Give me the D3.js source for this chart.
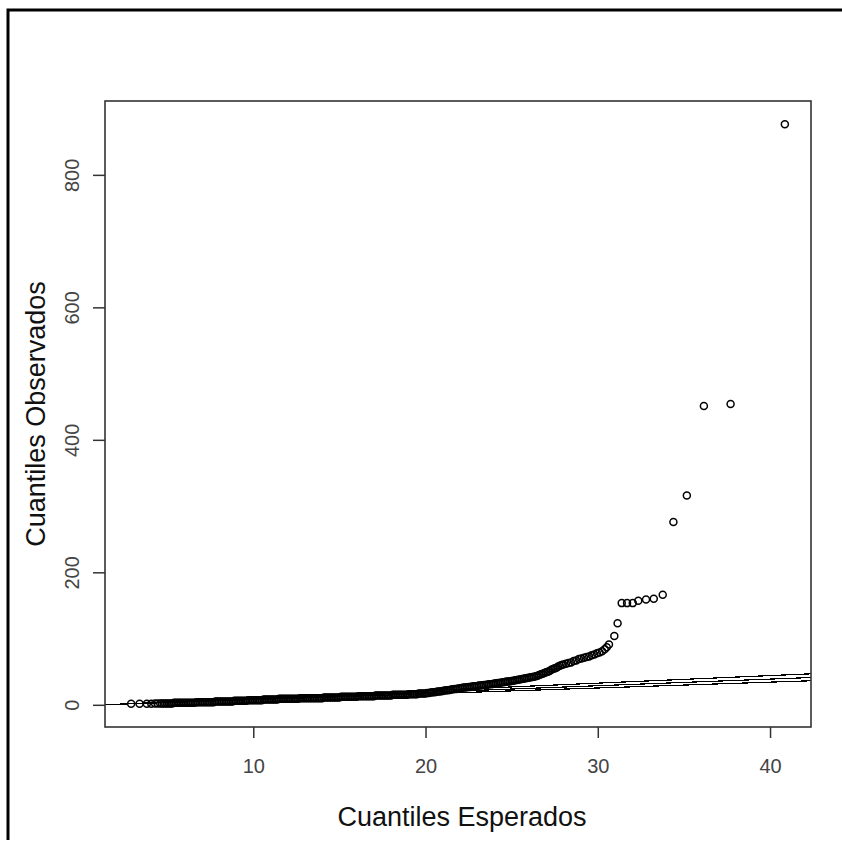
<!DOCTYPE html>
<html>
<head>
<meta charset="utf-8">
<script src="https://cdn.jsdelivr.net/npm/d3@7/dist/d3.min.js"></script>
<style>
  html, body { margin: 0; padding: 0; background: #fff; }
  svg { display: block; font-family: "Liberation Sans", Arial, sans-serif; }
</style>
</head>
<body>
<svg id="chart" width="842" height="852"></svg>
<script>
const expected = [
  2.91,3.40,3.82,4.08,4.30,4.45,
  4.6,4.7,4.8,4.9,5.0,5.1,5.2,5.3,5.4,5.5,
  5.6,5.7,5.8,5.9,6.0,6.1,6.2,6.3,6.4,6.5,
  6.6,6.7,6.8,6.9,7.0,7.1,7.2,7.3,7.4,7.5,
  7.6,7.7,7.8,7.9,8.0,8.1,8.2,8.3,8.4,8.5,
  8.6,8.7,8.8,8.9,9.0,9.1,9.2,9.3,9.4,9.5,
  9.6,9.7,9.8,9.9,10.0,10.1,10.2,10.3,10.4,10.5,
  10.6,10.7,10.8,10.9,11.0,11.1,11.2,11.3,11.4,11.5,
  11.6,11.7,11.8,11.9,12.0,12.1,12.2,12.3,12.4,12.5,
  12.6,12.7,12.8,12.9,13.0,13.1,13.2,13.3,13.4,13.5,
  13.6,13.7,13.8,13.9,14.0,14.1,14.2,14.3,14.4,14.5,
  14.6,14.7,14.8,14.9,15.0,15.1,15.2,15.3,15.4,15.5,
  15.6,15.7,15.8,15.9,16.0,16.1,16.2,16.3,16.4,16.5,
  16.6,16.7,16.8,16.9,17.0,17.1,17.2,17.3,17.4,17.5,
  17.6,17.7,17.8,17.9,18.0,18.1,18.2,18.3,18.4,18.5,
  18.6,18.7,18.8,18.9,19.0,19.1,19.2,19.3,19.4,19.5,
  19.6,19.7,19.8,19.9,20.0,20.1,20.2,20.3,20.4,20.5,
  20.6,20.7,20.8,20.9,21.0,21.1,21.2,21.3,21.4,21.5,
  21.6,21.7,21.8,21.9,22.0,22.1,22.2,22.3,22.4,22.5,
  22.6,22.7,22.8,22.9,23.0,23.1,23.2,23.3,23.4,23.5,
  23.6,23.7,23.8,23.9,24.0,24.1,24.2,24.3,24.4,24.5,
  24.6,24.7,24.8,24.9,25.0,25.1,25.2,25.3,25.4,25.5,
  25.6,25.7,25.8,25.9,26.0,26.1,26.2,26.3,26.4,26.5,
  26.6,26.7,26.8,26.9,27.0,27.1,27.2,27.3,27.4,27.5,
  27.6,27.7,27.8,27.9,
  28.0,28.15,28.3,28.45,28.6,28.75,28.9,29.05,29.2,29.35,
  29.5,29.65,29.8,29.95,30.1,30.25,30.4,30.52,30.65,
  30.96,31.15,31.39,31.7,32.03,32.35,32.8,33.25,33.77,
  34.39,35.17,36.16,37.71,40.86
];
const observed = [
  1.5,1.5,1.5,1.5,2,2,
  2,2,2,2,2,2,2,2,3,3,
  3,3,3,3,3,3,3,3,3,3,
  3,4,4,4,4,4,4,4,4,4,
  4,4,5,5,5,5,5,5,5,5,
  5,5,5,6,6,6,6,6,6,6,
  6,7,7,7,7,7,7,7,7,7,
  8,8,8,8,8,8,8,8,8,9,
  9,9,9,9,9,9,9,9,9,9,
  9,10,10,10,10,10,10,10,10,10,
  10,10,10,10,10,11,11,11,11,11,
  11,11,11,11,11,12,12,12,12,12,
  12,12,12,12,12,13,13,13,13,13,
  13,13,13,13,13,14,14,14,14,14,
  14,14,14,14,14,15,15,15,15,15,
  15,15,15,15,16,16,16,16,16,16,
  17,17,17,17,17,18,18,18.5,19,19,
  19.5,20,20,20.5,21,21.5,22,22,22.5,23,
  23.5,24,24,24.5,25,25.5,26,26,26.5,27,
  27,27.5,28,28,28.5,29,29,29.5,30,30,
  30.5,31,31,31.5,32,32.5,33,33,33.5,34,
  34.5,35,35,35.5,36,36.5,37,37.5,38,38.5,
  39,39.5,40,40.5,41,41.5,42,42.5,43,44,
  45,46,47,48,49,50,51,53,54,55,
  56,58,59,60,
  61,62,63,64,66,67,69,70,71,72,
  73,75,76,78,79,81,84,87,91,
  104,123,153.5,153.5,153.5,157,159,160,166,
  276,316,451,454,876.5
];

// three reference lines: intercept and slope
const refIntercepts = [-1.5, -1.2, -1.0];
const refSlopes = [1.14, 1.0, 0.88];

const xTicks = [10, 20, 30, 40];
const yTicks = [0, 200, 400, 600, 800];
const xTitle = 'Cuantiles Esperados';
const yTitle = 'Cuantiles Observados';

const svg = d3.select('#chart');
const box = {left: 105, right: 811, top: 101, bottom: 727};

// R style 4% padding around data range
const xExt = d3.extent(expected), yExt = d3.extent(observed);
const xPad = (xExt[1]-xExt[0])*0.04, yPad = (yExt[1]-yExt[0])*0.04;
const x = d3.scaleLinear().domain([xExt[0]-xPad, xExt[1]+xPad]).range([box.left, box.right]);
const y = d3.scaleLinear().domain([yExt[0]-yPad, yExt[1]+yPad]).range([box.bottom, box.top]);

svg.append('rect').attr('width', 842).attr('height', 852).attr('fill', '#fff');

// outer frame (cropped on right / bottom)
svg.append('path').attr('d', 'M8,840 V10 H842')
  .attr('fill', 'none').attr('stroke', '#000').attr('stroke-width', 3);

svg.append('defs').append('clipPath').attr('id', 'plotClip')
  .append('rect').attr('x', box.left).attr('y', box.top)
  .attr('width', box.right-box.left).attr('height', box.bottom-box.top);

const plot = svg.append('g').attr('clip-path', 'url(#plotClip)');

// reference lines
const xd = x.domain();
plot.append('g').selectAll('line').data(refSlopes).enter().append('line')
  .attr('x1', x(xd[0])).attr('x2', x(xd[1]))
  .attr('y1', (b,i) => y(refIntercepts[i] + b*xd[0]))
  .attr('y2', (b,i) => y(refIntercepts[i] + b*xd[1]))
  .attr('stroke', '#000').attr('stroke-width', 1.2)
  .attr('shape-rendering', 'crispEdges');

// points
const pts = expected.map((e,i) => ({e, o: observed[i]}));
plot.append('g').selectAll('circle').data(pts).enter().append('circle')
  .attr('cx', d => x(d.e)).attr('cy', d => y(d.o))
  .attr('r', 3.5).attr('fill', 'none')
  .attr('stroke', '#000').attr('stroke-width', 1.5);

// plot box
svg.append('rect').attr('x', box.left).attr('y', box.top)
  .attr('width', box.right-box.left).attr('height', box.bottom-box.top)
  .attr('fill', 'none').attr('stroke', '#333').attr('stroke-width', 1.6);

// x axis
const xa = svg.append('g').attr('transform', 'translate(0,' + box.bottom + ')')
  .call(d3.axisBottom(x).tickValues(xTicks).tickSize(11).tickSizeOuter(0));
xa.select('.domain').remove();
xa.selectAll('line').attr('stroke', '#333').attr('stroke-width', 1.5);
xa.selectAll('text').attr('font-size', 20).attr('fill', '#444')
  .attr('font-family', '"Liberation Sans", Arial, sans-serif').attr('dy', null)
  .attr('y', 46);

// y axis
const ya = svg.append('g').attr('transform', 'translate(' + box.left + ',0)')
  .call(d3.axisLeft(y).tickValues(yTicks).tickSize(12).tickSizeOuter(0));
ya.select('.domain').remove();
ya.selectAll('line').attr('stroke', '#333').attr('stroke-width', 1.5);
ya.selectAll('text').attr('font-size', 20).attr('fill', '#444')
  .attr('font-family', '"Liberation Sans", Arial, sans-serif')
  .attr('x', null).attr('dy', null)
  .attr('text-anchor', 'middle')
  .attr('transform', 'translate(-26,0) rotate(-90)');

// titles
svg.append('text').attr('x', (box.left+box.right)/2 + 4).attr('y', 826)
  .attr('text-anchor', 'middle').attr('font-size', 27).attr('fill', '#111')
  .text(xTitle);
svg.append('text')
  .attr('transform', 'translate(45,' + (box.top+box.bottom)/2 + ') rotate(-90)')
  .attr('text-anchor', 'middle').attr('font-size', 27).attr('fill', '#111')
  .text(yTitle);
</script>
</body>
</html>
